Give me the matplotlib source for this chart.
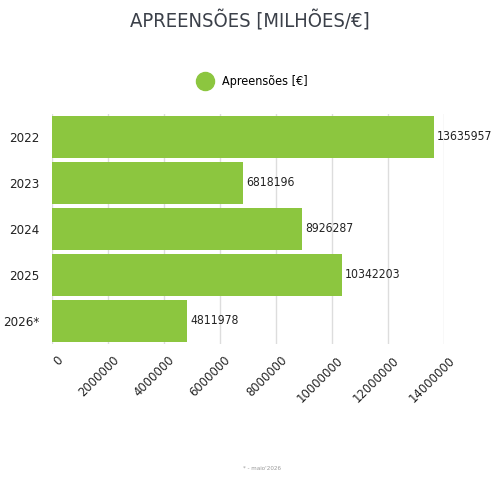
import matplotlib.pyplot as plt
from matplotlib.lines import Line2D
from matplotlib.transforms import ScaledTranslation

plt.rcParams['font.family'] = ['DejaVu Sans']
plt.rcParams['font.stretch'] = 'condensed'

anos = ['2022', '2023', '2024', '2025', '2026*']
apreensoes = [13635957, 6818196, 8926287, 10342203, 4811978]
ticks_x = [0, 2000000, 4000000, 6000000, 8000000, 10000000, 12000000, 14000000]

verde = '#8cc63f'
cinza = '#3b4049'

fig = plt.figure(figsize=(5, 5), dpi=100)
ax = fig.add_axes([0.104, 0.312, 0.784, 0.46])

y = list(range(len(anos)))
ax.barh(y, apreensoes, height=0.91, color=verde, zorder=2)
for yi, v in zip(y, apreensoes):
    ax.text(v + 120000, yi, str(v), va='center', ha='left', fontsize=8.7, color='#222222')

ax.set_yticks(y)
ax.set_yticklabels(anos, fontsize=9.5, color='#222222')
ax.set_ylim(len(anos) - 0.5, -0.5)
ax.set_xlim(0, 14000000)
ax.set_xticks(ticks_x)
ax.set_xticklabels([str(t) for t in ticks_x], rotation=45, ha='right', va='top',
                   rotation_mode='anchor', fontsize=9.3, color='#222222')
ax.tick_params(axis='y', length=0, pad=9)
ax.tick_params(axis='x', length=0, pad=7)
offset = ScaledTranslation(3 / 72, 0, fig.dpi_scale_trans)
for lbl in ax.get_xticklabels():
    lbl.set_transform(lbl.get_transform() + offset)
ax.grid(axis='x', color='#dddddd', linewidth=1, zorder=0)
for s in ax.spines.values():
    s.set_visible(False)

fig.text(0.5, 0.958, 'APREENSÕES [MILHÕES/€]', ha='center', va='center',
         fontsize=14.5, color=cinza)

handle = Line2D([], [], marker='o', linestyle='none', markersize=13,
                markerfacecolor=verde, markeredgecolor=verde)
fig.legend([handle], ['Apreensões [€]'], loc='center', bbox_to_anchor=(0.5, 0.836),
           frameon=False, fontsize=9, handletextpad=0.4)

fig.text(0.524, 0.064, "* - maio'2026", ha='center', va='center', fontsize=4.5, color='#999999')

fig.savefig('out.png', dpi=100)
